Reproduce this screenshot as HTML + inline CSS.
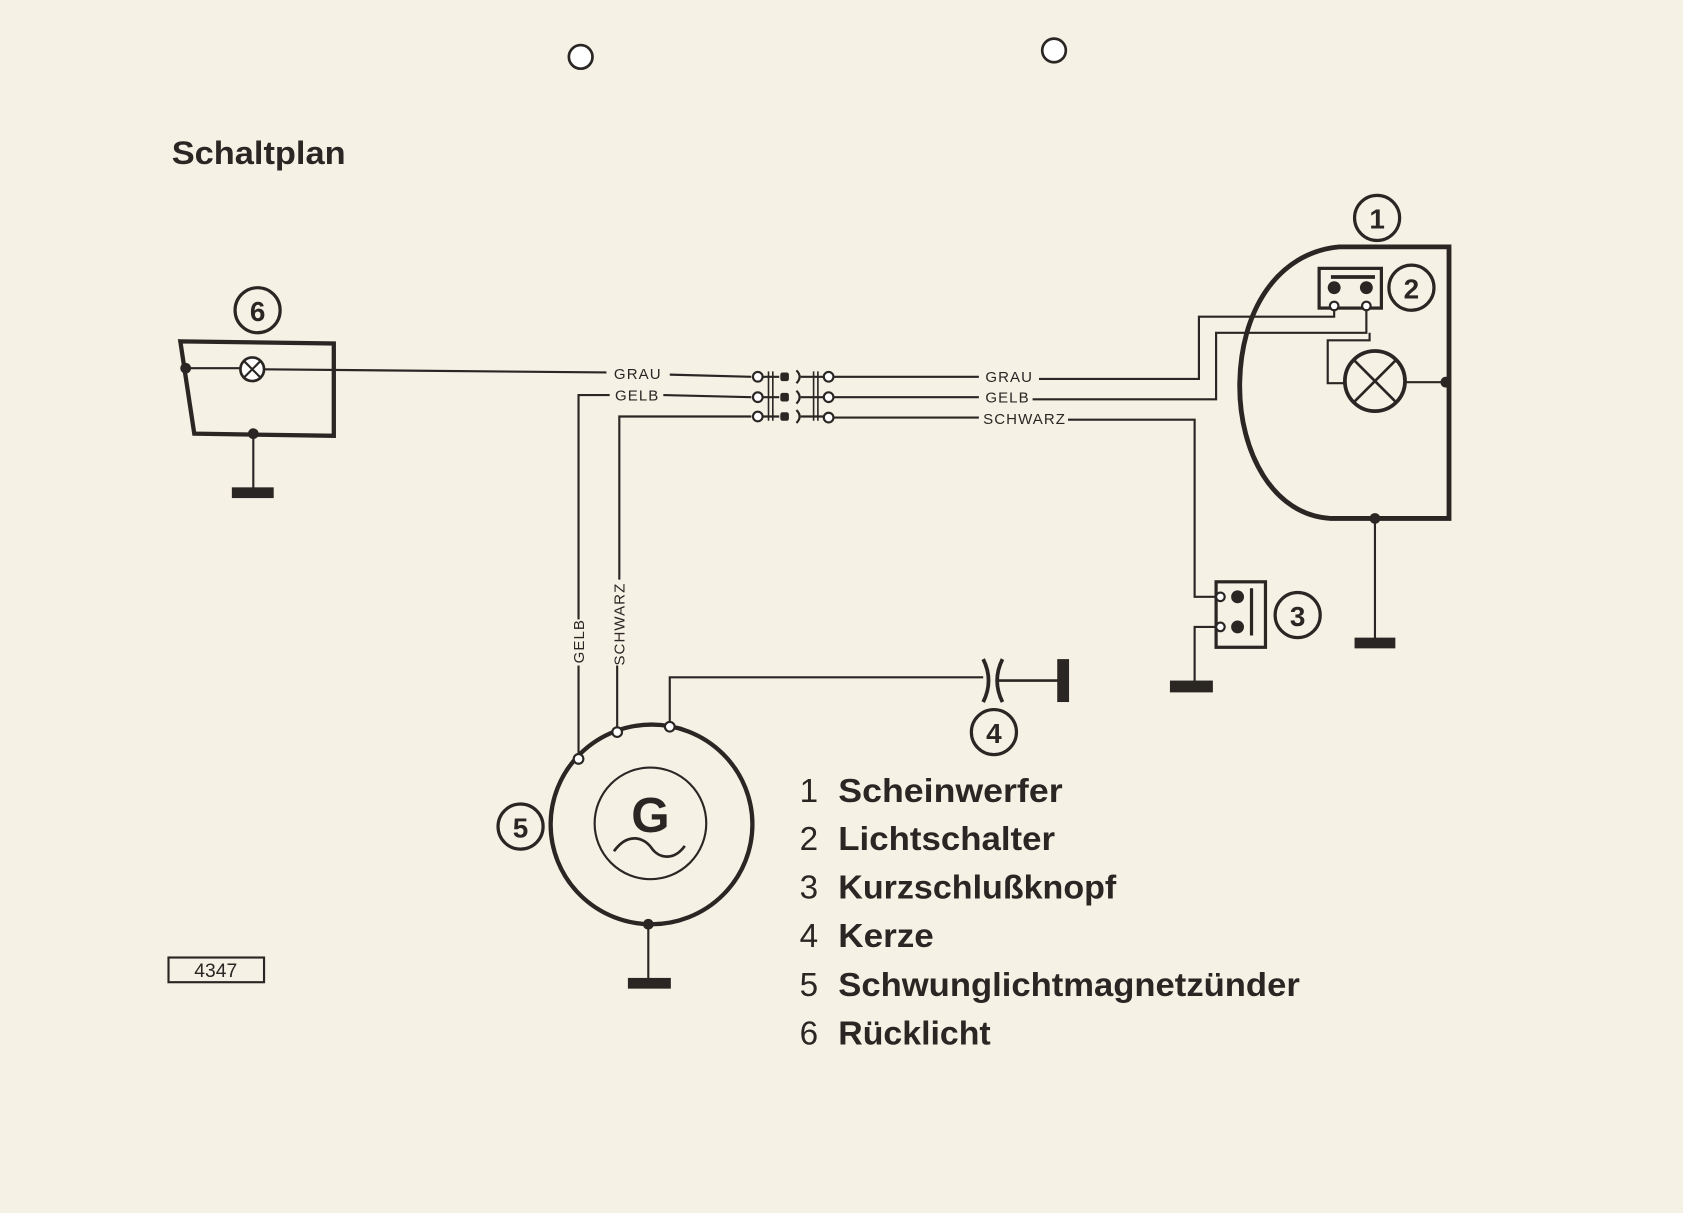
<!DOCTYPE html>
<html><head><meta charset="utf-8"><style>
html,body{margin:0;padding:0;background:#f6f1e5;}
svg{display:block}
text{font-family:"Liberation Sans",sans-serif;fill:#2a2624}
</style></head><body>
<svg width="1683" height="1213" viewBox="0 0 1568 1130" preserveAspectRatio="none" xmlns="http://www.w3.org/2000/svg">
<rect width="1568" height="1130" fill="#f6f1e5"/>
<circle cx="541" cy="53" r="11" fill="#fff" stroke="#2a2624" stroke-width="2.5"/>
<circle cx="982" cy="47" r="11" fill="#fff" stroke="#2a2624" stroke-width="2.5"/>

<text x="160" y="153" font-size="30" font-weight="bold" textLength="162" lengthAdjust="spacingAndGlyphs">Schaltplan</text>

<g stroke="#2a2624" fill="none">
<path d="M168,318 L311,320 L311,406 L181,404 Z" stroke-width="4"/>
<path d="M173,343 L224,343 M246,344 L565,347" stroke-width="2"/>
<circle cx="235" cy="344" r="11" stroke-width="2.5" fill="#fff"/>
<path d="M227,336 L243,352 M243,336 L227,352" stroke-width="2"/>
<path d="M236,404 L236,455" stroke-width="2"/>

<path d="M624,349 L700,351" stroke-width="2"/>
<path d="M539,577 L539,368 L568,368 M618,368 L700,370" stroke-width="2"/>
<path d="M539,620 L539,703" stroke-width="2"/>
<path d="M575,679 L575,620 M577,540 L577,388 L700,388" stroke-width="2"/>

<path d="M716,346 L716,392 M720,346 L720,392 M758,346 L758,392 M762,346 L762,392" stroke-width="1.5"/>
<path d="M711,351 L726,351 M711,370 L726,370 M711,388 L726,388" stroke-width="2"/>
<path d="M742,345 Q748,351 742,357 M742,364 Q748,370 742,376 M742,382 Q748,388 742,394" stroke-width="2"/>
<path d="M746,351 L767,351 M746,370 L767,370 M746,388 L767,388" stroke-width="2"/>
<g fill="#fff" stroke-width="2">
<circle cx="706" cy="351" r="4.5"/><circle cx="706" cy="370" r="4.5"/><circle cx="706" cy="388" r="4.5"/>
<circle cx="772" cy="351" r="4.5"/><circle cx="772" cy="370" r="4.5"/><circle cx="772" cy="389" r="4.5"/>
</g>
<path d="M777,351 L912,351 M777,370 L912,370 M777,389 L912,389" stroke-width="2"/>

<path d="M968,353 L1117,353 L1117,295 L1243,295 L1243,285" stroke-width="2"/>
<path d="M962,372 L1133,372 L1133,310 L1273,310 L1273,285" stroke-width="2"/>
<path d="M1276,310 L1276,317 L1237,317 L1237,357 L1253,357" stroke-width="2"/>
<path d="M995,391 L1113,391 L1113,556 L1133,556" stroke-width="2"/>
<path d="M1133,584 L1113,584 L1113,636" stroke-width="2"/>

<path d="M1350,230 L1350,483 L1240,483 C1185,480 1155,420 1155,360 C1155,290 1190,235 1248,230 Z" stroke-width="4.5"/>
<rect x="1229" y="250" width="58" height="37" stroke-width="3"/>
<path d="M1240,258 L1281,258" stroke-width="3.5"/>
<circle cx="1281" cy="355" r="28" stroke-width="3.5" fill="#f6f1e5"/>
<path d="M1261,335 L1301,375 M1301,335 L1261,375" stroke-width="2.5"/>
<path d="M1309,356 L1347,356" stroke-width="2"/>
<path d="M1281,483 L1281,595" stroke-width="2"/>

<rect x="1133" y="542" width="46" height="61" stroke-width="3"/>
<path d="M1166,548 L1166,592" stroke-width="3"/>

<ellipse cx="607" cy="768" rx="94" ry="93" stroke-width="4"/>
<circle cx="606" cy="767" r="52" stroke-width="2"/>
<path d="M572,793 C585,775 600,780 607,790 C614,800 628,802 638,788" stroke-width="2.5"/>
<path d="M624,674 L624,631 L916,631" stroke-width="2"/>
<path d="M604,861 L604,912" stroke-width="2"/>
<path d="M916,614 Q926,634 916,654 M934,614 Q924,634 934,654" stroke-width="3.5"/>
<path d="M930,634 L987,634" stroke-width="2.5"/>

<g stroke-width="3">
<circle cx="1283" cy="203" r="21"/>
<circle cx="1315" cy="268" r="21"/>
<circle cx="1209" cy="573" r="21"/>
<circle cx="926" cy="682" r="21"/>
<circle cx="485" cy="770" r="21"/>
<circle cx="240" cy="289" r="21"/>
</g>
<rect x="157" y="892" width="89" height="23" stroke-width="2"/>
</g>

<g fill="#2a2624">
<circle cx="173" cy="343" r="5"/><circle cx="236" cy="404" r="5"/>
<rect x="216" y="454" width="39" height="10"/>
<rect x="727" y="347" width="8" height="8" rx="2"/><rect x="727" y="366" width="8" height="8" rx="2"/><rect x="727" y="384" width="8" height="8" rx="2"/>
<circle cx="1243" cy="268" r="6"/><circle cx="1273" cy="268" r="6"/>
<circle cx="1347" cy="356" r="5"/><circle cx="1281" cy="483" r="5"/>
<rect x="1262" y="594" width="38" height="10"/>
<circle cx="1153" cy="556" r="6"/><circle cx="1153" cy="584" r="6"/>
<rect x="1090" y="634" width="40" height="11"/>
<rect x="985" y="614" width="11" height="40"/>
<circle cx="604" cy="861" r="5"/>
<rect x="585" y="911" width="40" height="10"/>
</g>
<g fill="#fff" stroke="#2a2624" stroke-width="2">
<circle cx="1243" cy="285" r="4"/><circle cx="1273" cy="285" r="4"/>
<circle cx="1137" cy="556" r="4"/><circle cx="1137" cy="584" r="4"/>
<circle cx="539" cy="707" r="4.5"/><circle cx="575" cy="682" r="4.5"/><circle cx="624" cy="677" r="4.5"/>
</g>

<g font-size="14" letter-spacing="1">
<text x="572" y="353">GRAU</text>
<text x="573" y="373">GELB</text>
<text x="918" y="356">GRAU</text>
<text x="918" y="375">GELB</text>
<text x="916" y="395">SCHWARZ</text>
<text transform="translate(544,618) rotate(-90)">GELB</text>
<text transform="translate(582,620) rotate(-90)">SCHWARZ</text>
</g>

<g font-size="26" font-weight="bold" text-anchor="middle">
<text x="1283" y="213">1</text>
<text x="1315" y="278">2</text>
<text x="1209" y="583">3</text>
<text x="926" y="692">4</text>
<text x="485" y="780">5</text>
<text x="240" y="299">6</text>
</g>
<text x="606" y="775" font-size="46" font-weight="bold" text-anchor="middle">G</text>
<text x="201" y="910" font-size="18" text-anchor="middle">4347</text>

<g font-size="31" font-weight="bold">
<text x="745" y="747" font-weight="normal">1</text><text x="781" y="747" textLength="209" lengthAdjust="spacingAndGlyphs">Scheinwerfer</text>
<text x="745" y="792" font-weight="normal">2</text><text x="781" y="792" textLength="202" lengthAdjust="spacingAndGlyphs">Lichtschalter</text>
<text x="745" y="837" font-weight="normal">3</text><text x="781" y="837" textLength="259" lengthAdjust="spacingAndGlyphs">Kurzschlußknopf</text>
<text x="745" y="882" font-weight="normal">4</text><text x="781" y="882" textLength="89" lengthAdjust="spacingAndGlyphs">Kerze</text>
<text x="745" y="928" font-weight="normal">5</text><text x="781" y="928" textLength="430" lengthAdjust="spacingAndGlyphs">Schwunglichtmagnetzünder</text>
<text x="745" y="973" font-weight="normal">6</text><text x="781" y="973" textLength="142" lengthAdjust="spacingAndGlyphs">Rücklicht</text>
</g>
</svg>
</body></html>
